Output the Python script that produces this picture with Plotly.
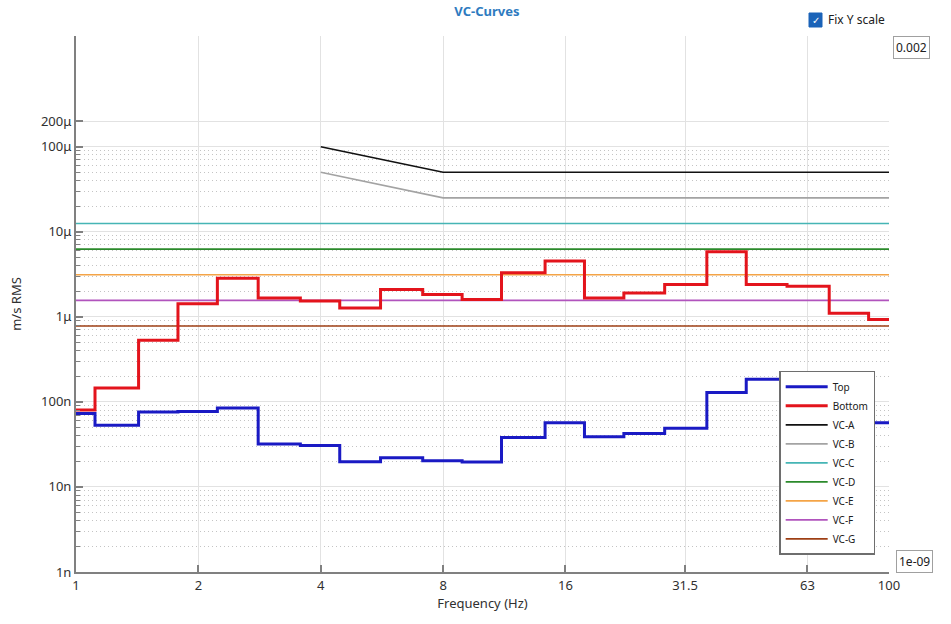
import plotly.graph_objects as go

# ---- data ----
band_centers = [1, 1.25, 1.6, 2, 2.5, 3.15, 4, 5, 6.3, 8, 10, 12.5, 16, 20, 25,
                31.5, 40, 50, 63, 80, 100]
top_vals = [7.3e-8, 5.3e-8, 7.6e-8, 7.7e-8, 8.45e-8, 3.19e-8, 3.08e-8, 1.98e-8,
            2.2e-8, 2.03e-8, 1.96e-8, 3.8e-8, 5.7e-8, 3.9e-8, 4.25e-8, 4.9e-8,
            1.29e-7, 1.84e-7, 8.2e-8, 1.34e-7, 5.7e-8]
bottom_vals = [8.0e-8, 1.46e-7, 5.3e-7, 1.42e-6, 2.83e-6, 1.66e-6, 1.53e-6, 1.27e-6,
               2.1e-6, 1.83e-6, 1.6e-6, 3.29e-6, 4.52e-6, 1.66e-6, 1.91e-6, 2.4e-6,
               5.8e-6, 2.4e-6, 2.29e-6, 1.1e-6, 9.3e-7]

vc_ab_freq = [4, 8, 100]
vc_a_vals = [100e-6, 50e-6, 50e-6]
vc_b_vals = [50e-6, 25e-6, 25e-6]
vc_flat_freq = [1, 100]
vc_levels = {"VC-C": 12.5e-6, "VC-D": 6.25e-6, "VC-E": 3.12e-6,
             "VC-F": 1.56e-6, "VC-G": 0.78e-6}

x_tickvals = [1, 2, 4, 8, 16, 31.5, 63, 100]
x_ticktext = ["1", "2", "4", "8", "16", "31.5", "63", "100"]
y_tickvals = [1e-9, 1e-8, 1e-7, 1e-6, 1e-5, 1e-4, 2e-4]
y_ticktext = ["1n", "10n", "100n", "1\u03bc", "10\u03bc", "100\u03bc", "200\u03bc"]

# ---- styles ----
colors = {"Top": "#1a1ac4", "Bottom": "#e3141c", "VC-A": "#111111", "VC-B": "#a3a3a3",
          "VC-C": "#45b5b5", "VC-D": "#2b8a2b", "VC-E": "#f4a447", "VC-F": "#b154bd",
          "VC-G": "#9e3f14"}

half = 2 ** (1 / 6)
edges = [c / half for c in band_centers] + [band_centers[-1] * half]


def step_y(vals):
    return list(vals) + [vals[-1]]


fig = go.Figure()
# VC curves first (drawn below)
fig.add_trace(go.Scatter(x=vc_ab_freq, y=vc_a_vals, mode="lines", name="VC-A",
                         line=dict(color=colors["VC-A"], width=1.6), legendrank=3))
fig.add_trace(go.Scatter(x=vc_ab_freq, y=vc_b_vals, mode="lines", name="VC-B",
                         line=dict(color=colors["VC-B"], width=1.6), legendrank=4))
for i, (nm, lv) in enumerate(vc_levels.items()):
    fig.add_trace(go.Scatter(x=vc_flat_freq, y=[lv, lv], mode="lines", name=nm,
                             line=dict(color=colors[nm], width=1.6), legendrank=5 + i))

fig.add_trace(go.Scatter(x=edges, y=step_y(top_vals), mode="lines", name="Top",
                         line=dict(color=colors["Top"], width=3, shape="hv"), legendrank=1))
fig.add_trace(go.Scatter(x=edges, y=step_y(bottom_vals), mode="lines", name="Bottom",
                         line=dict(color=colors["Bottom"], width=3, shape="hv"), legendrank=2))

minor_vals = [m * 10 ** e for e in range(-9, -4) for m in range(2, 10)]

font_family = "Noto Sans, Open Sans, sans-serif"

fig.update_layout(
    width=951, height=624,
    margin=dict(l=76, r=62, t=36, b=52),
    paper_bgcolor="white", plot_bgcolor="white",
    font=dict(family=font_family, size=12, color="#303030"),
    title=dict(text="<b>VC-Curves</b>", x=0.512, xanchor="center", y=0.981,
               yanchor="middle", yref="container",
               font=dict(size=13, color="#2e7bbf", family=font_family)),
    showlegend=True,
    legend=dict(x=0.983, y=0.032, xanchor="right", yanchor="bottom",
                bgcolor="white", bordercolor="#6e6e6e", borderwidth=1.5,
                font=dict(size=10, color="#202020"), tracegroupgap=0,
                itemwidth=42),
)

fig.update_xaxes(
    type="log", range=[0, 2],
    tickmode="array", tickvals=x_tickvals, ticktext=x_ticktext,
    ticks="inside", ticklen=7, tickwidth=1.5, tickcolor="#808080",
    showline=True, linecolor="#808080", linewidth=2,
    showgrid=True, gridcolor="#e2e2e2", gridwidth=1,
    zeroline=False,
    title=dict(text="Frequency (Hz)", font=dict(size=13), standoff=6),
    tickfont=dict(size=13),
)

fig.update_yaxes(
    type="log", range=[-9, -2.69897],
    tickmode="array", tickvals=y_tickvals, ticktext=y_ticktext,
    ticks="inside", ticklen=7, tickwidth=1.5, tickcolor="#808080",
    showline=True, linecolor="#808080", linewidth=2,
    showgrid=True, gridcolor="#e2e2e2", gridwidth=1,
    zeroline=False,
    minor=dict(tickmode="array", tickvals=minor_vals, ticks="inside", ticklen=4,
               tickcolor="#808080", tickwidth=1, showgrid=True,
               gridcolor="#c4c4c4", griddash="1px,3px", gridwidth=1),
    title=dict(text="m/s RMS", font=dict(size=13), standoff=16),
    tickfont=dict(size=13),
)

# Checkbox "Fix Y scale"
fig.add_shape(type="rect", xref="paper", yref="paper",
              x0=(809 - 76) / 813, x1=(822 - 76) / 813,
              y0=(572 - 27) / 536, y1=(572 - 13) / 536,
              fillcolor="#1b63b8", line=dict(color="#1b63b8", width=1))
fig.add_annotation(xref="paper", yref="paper", x=(815.5 - 76) / 813, y=(572 - 20) / 536,
                   text="\u2713", showarrow=False, font=dict(size=10, color="white"),
                   xanchor="center", yanchor="middle")
fig.add_annotation(xref="paper", yref="paper", x=(826 - 76) / 813, y=(572 - 20) / 536,
                   text="Fix Y scale", showarrow=False, font=dict(size=12, color="#202020"),
                   xanchor="left", yanchor="middle")
# Range boxes
fig.add_annotation(xref="paper", yref="paper", x=(911 - 76) / 813, y=(572 - 47) / 536,
                   text="0.002", showarrow=False, font=dict(size=12, color="#202020"),
                   bordercolor="#a0a0a0", borderwidth=1, borderpad=2, bgcolor="white",
                   xanchor="center", yanchor="middle")
fig.add_annotation(xref="paper", yref="paper", x=(914 - 76) / 813, y=(572 - 561) / 536,
                   text="1e-09", showarrow=False, font=dict(size=12, color="#202020"),
                   bordercolor="#a0a0a0", borderwidth=1, borderpad=2, bgcolor="white",
                   xanchor="center", yanchor="middle")

fig.write_html("out.html")
